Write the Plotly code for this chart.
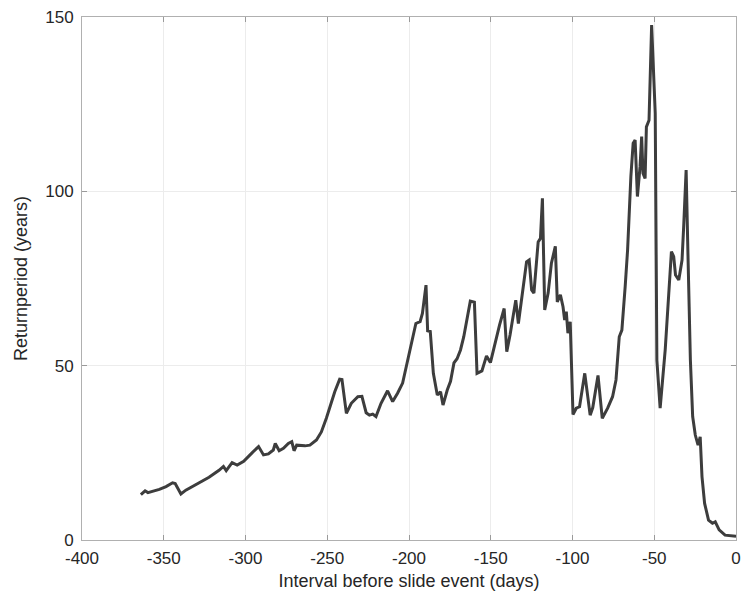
import plotly.graph_objects as go

# Days before the slide event and the corresponding return period (years)
days = [
    -364, -361.4, -359.7, -356.7, -352.7, -348.6, -344.6, -343, -339.5, -336.5,
    -330.4, -322.3, -316.2, -313.5, -311.8, -308.2, -305.1, -301.1, -296, -292,
    -289, -286, -283, -281.8, -279.4, -276.8, -273.8, -271.7, -270.3, -268.7,
    -263.6, -260.6, -256.6, -253.6, -250.5, -247.5, -245.4, -242.4, -241, -238.3,
    -235.3, -231.3, -228.8, -226.2, -224.2, -222.2, -220.2, -217.1, -213.1, -210,
    -207, -203.9, -200.9, -197.9, -195.8, -193.2, -191.8, -189.6, -188.6, -187,
    -185.1, -182.7, -180.7, -179.2, -176.6, -174.6, -172.5, -170.6, -168.5, -166.5,
    -162.5, -160, -158.4, -155.4, -152.6, -150.2, -147.3, -144.6, -141.8, -140.2,
    -138.2, -135.7, -134.7, -133.1, -131.1, -128.1, -126.5, -125, -123.6, -122,
    -121, -119.6, -118.4, -117, -114.9, -112.9, -110.5, -109.3, -107.4, -105.8,
    -104.8, -103.8, -102.8, -101.4, -99.7, -97.7, -95.7, -92.5, -89.2, -87.6,
    -84.4, -81.8, -78.5, -75.5, -73.4, -71.4, -69.8, -67.8, -66.3, -64.3,
    -62.9, -61.7, -60.3, -58.7, -57.7, -56.9, -55.6, -54.8, -53.2, -51.6,
    -50.2, -49.4, -48.4, -46.4, -43.3, -41.1, -39.5, -38.1, -37, -35,
    -33, -32, -30.5, -29.3, -27.9, -26.5, -24.9, -23.2, -21.9, -20.8,
    -19.2, -16.8, -14.4, -12.7, -10.3, -6.7, 0,
]
return_period = [
    13.0, 14.1, 13.6, 13.9, 14.5, 15.3, 16.4, 16.2, 13.2, 14.3,
    15.8, 18.0, 20.0, 21.1, 19.9, 22.2, 21.5, 22.6, 25.0, 26.8,
    24.4, 24.7, 25.8, 27.7, 25.6, 26.3, 27.7, 28.2, 25.6, 27.2,
    27.0, 27.2, 28.7, 31.0, 35.0, 39.7, 42.5, 46.1, 46.0, 36.3,
    39.2, 41.1, 41.2, 36.5, 35.8, 36.1, 35.4, 39.2, 42.8, 39.7,
    42.1, 45.0, 51.0, 57.0, 62.1, 62.6, 65.0, 73.1, 60.0, 59.8,
    47.8, 41.6, 42.5, 38.7, 43.0, 45.5, 50.8, 52.0, 54.5, 58.3,
    68.5, 68.2, 47.8, 48.5, 52.8, 50.9, 56.6, 61.7, 66.4, 54.0,
    58.8, 66.0, 68.8, 62.1, 69.3, 79.8, 80.3, 71.7, 70.8, 81.3,
    85.5, 86.5, 98.0, 66.0, 70.8, 79.4, 84.2, 68.3, 70.3, 66.9,
    63.1, 65.5, 59.3, 62.6, 36.0, 37.8, 38.2, 47.8, 35.8, 38.0,
    47.2, 34.9, 37.8, 41.1, 45.9, 58.3, 60.2, 72.6, 83.2, 104.2,
    113.8, 114.7, 98.5, 107.0, 115.7, 105.2, 103.7, 118.5, 120.4, 147.7,
    129.0, 122.4, 51.6, 37.8, 54.5, 73.0, 82.7, 81.3, 76.0, 74.6,
    80.3, 89.9, 106.1, 80.3, 51.6, 35.4, 30.1, 27.2, 29.6, 18.2,
    10.5, 5.7, 4.8, 5.2, 2.9, 1.4, 1.1,
]

x_ticks = [-400, -350, -300, -250, -200, -150, -100, -50, 0]
y_ticks = [0, 50, 100, 150]

FONT = "Liberation Sans, Arial, sans-serif"

fig = go.Figure(
    go.Scatter(
        x=days,
        y=return_period,
        mode="lines",
        line=dict(color="#3d3d3d", width=3),
        showlegend=False,
    )
)

axis_common = dict(
    showline=True,
    linecolor="#b0b0b0",
    linewidth=1,
    mirror="ticks",
    ticks="inside",
    ticklen=5,
    tickcolor="#9a9a9a",
    showgrid=True,
    gridcolor="#ececec",
    gridwidth=1,
    zeroline=False,
    tickfont=dict(family=FONT, size=17, color="#262626"),
)

fig.update_xaxes(
    range=[-400, 0],
    tickvals=x_ticks,
    ticktext=[str(v) for v in x_ticks],
    ticklabelstandoff=3,
    title=dict(
        text="Interval before slide event (days)",
        font=dict(family=FONT, size=18, color="#262626"),
        standoff=6,
    ),
    **axis_common,
)
fig.update_yaxes(
    range=[0, 150],
    tickvals=y_ticks,
    ticktext=[str(v) for v in y_ticks],
    ticklabelstandoff=4,
    title=dict(
        text="Returnperiod (years)",
        font=dict(family=FONT, size=18, color="#262626"),
        standoff=12,
    ),
    **axis_common,
)

fig.update_layout(
    width=749,
    height=598,
    margin=dict(l=82, r=8, t=17, b=58),
    plot_bgcolor="white",
    paper_bgcolor="white",
)

fig.write_html("out.html")
